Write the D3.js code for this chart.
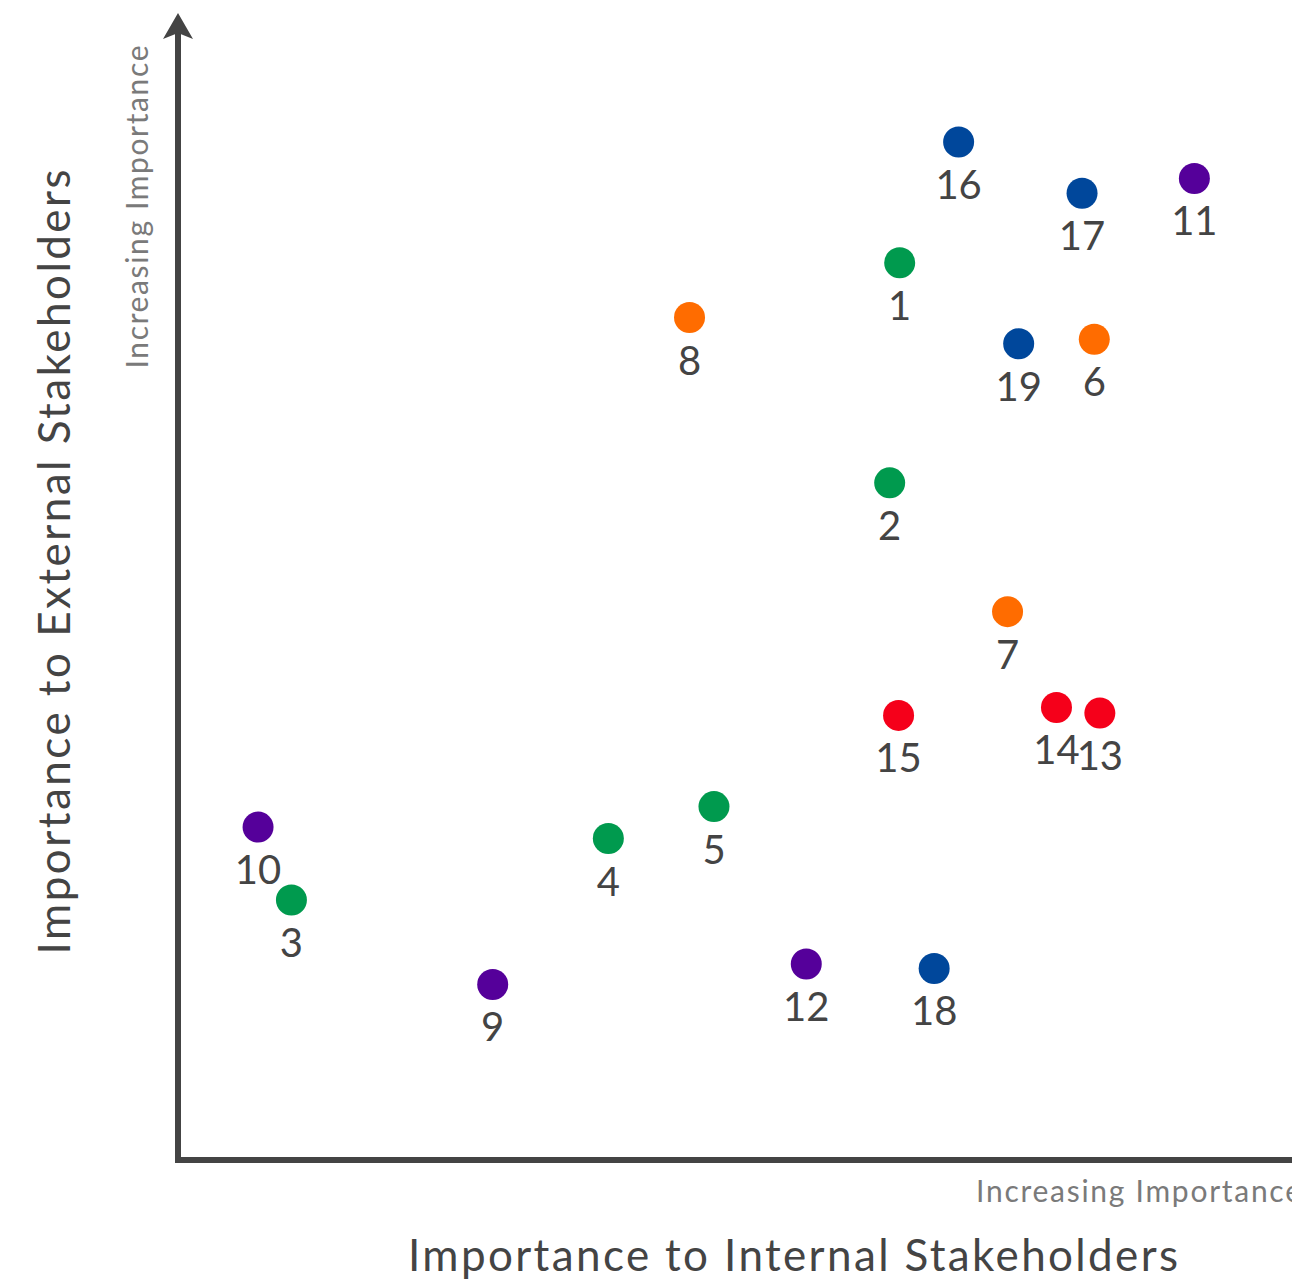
<!DOCTYPE html>
<html>
<head>
<meta charset="utf-8">
<script src="https://cdn.jsdelivr.net/npm/d3@7"></script>
<style>
  html, body { margin: 0; padding: 0; background: #fff; }
  svg { display: block; font-family: Lato, "Open Sans", sans-serif; }
</style>
</head>
<body>
<svg id="chart" width="1292" height="1280"></svg>
<script>
// ---- data ----
const ids = ["1","2","3","4","5","6","7","8","9","10","11","12","13","14","15","16","17","18","19"];
const internalImportance = [64.9, 64.0, 10.2, 38.7, 48.2, 82.4, 74.6, 46.0, 28.3, 7.2, 91.4, 56.5, 82.9, 79.0, 64.8, 70.2, 81.3, 68.0, 75.6];
const externalImportance = [78.7, 59.4, 22.8, 28.2, 31.0, 72.0, 48.1, 73.9, 15.4, 29.2, 86.1, 17.2, 39.2, 39.7, 39.0, 89.3, 84.8, 16.8, 71.6];
const groups = ["green","green","green","green","green","orange","orange","orange","purple","purple","purple","purple","red","red","red","blue","blue","blue","blue"];
const groupNames = ["green","orange","purple","red","blue"];
const groupColors = ["#009a4e", "#ff6c00", "#55009a", "#f5001a", "#00479b"];
const xTitle = "Importance to Internal Stakeholders";
const yTitle = "Importance to External Stakeholders";
const axisHint = "Increasing Importance";

const points = ids.map((id, i) => ({ id, x: internalImportance[i], y: externalImportance[i], g: groups[i] }));

const svg = d3.select("#chart");
const x = d3.scaleLinear().domain([0, 100]).range([178, 1290]);
const y = d3.scaleLinear().domain([0, 100]).range([1160, 20]);
const color = d3.scaleOrdinal().domain(groupNames).range(groupColors);

const axisColor = "#444444";
// axes
svg.append("line").attr("x1", 175).attr("x2", 1292).attr("y1", 1160).attr("y2", 1160)
  .attr("stroke", axisColor).attr("stroke-width", 6);
svg.append("line").attr("x1", 178).attr("x2", 178).attr("y1", 1163).attr("y2", 30)
  .attr("stroke", axisColor).attr("stroke-width", 6);
svg.append("path").attr("d", "M178,13 L193,39 L178,33 L163,39 Z").attr("fill", axisColor);

// titles
svg.append("text").attr("x", 793).attr("y", 1271).attr("text-anchor", "middle")
  .attr("font-size", 44).attr("fill", "#444")
  .attr("textLength", 770).attr("lengthAdjust", "spacing").text(xTitle);
svg.append("text").attr("transform", "translate(70,562) rotate(-90)").attr("text-anchor", "middle")
  .attr("font-size", 44).attr("fill", "#444")
  .attr("textLength", 785).attr("lengthAdjust", "spacing").text(yTitle);
svg.append("text").attr("x", 976).attr("y", 1202).attr("text-anchor", "start")
  .attr("font-size", 30).attr("fill", "#7a7a7a")
  .attr("textLength", 325).attr("lengthAdjust", "spacing").text(axisHint);
svg.append("text").attr("transform", "translate(148,207) rotate(-90)").attr("text-anchor", "middle")
  .attr("font-size", 30).attr("fill", "#7a7a7a")
  .attr("textLength", 323).attr("lengthAdjust", "spacing").text(axisHint);

// points
const g = svg.append("g");
g.selectAll("circle").data(points).join("circle")
  .attr("cx", d => x(d.x)).attr("cy", d => y(d.y)).attr("r", 15.5)
  .attr("fill", d => color(d.g));
g.selectAll("text.lbl").data(points).join("text").attr("class", "lbl")
  .attr("x", d => x(d.x)).attr("y", d => y(d.y) + 57)
  .attr("text-anchor", "middle").attr("font-size", 40).attr("fill", "#444")
  .text(d => d.id);
</script>
</body>
</html>
